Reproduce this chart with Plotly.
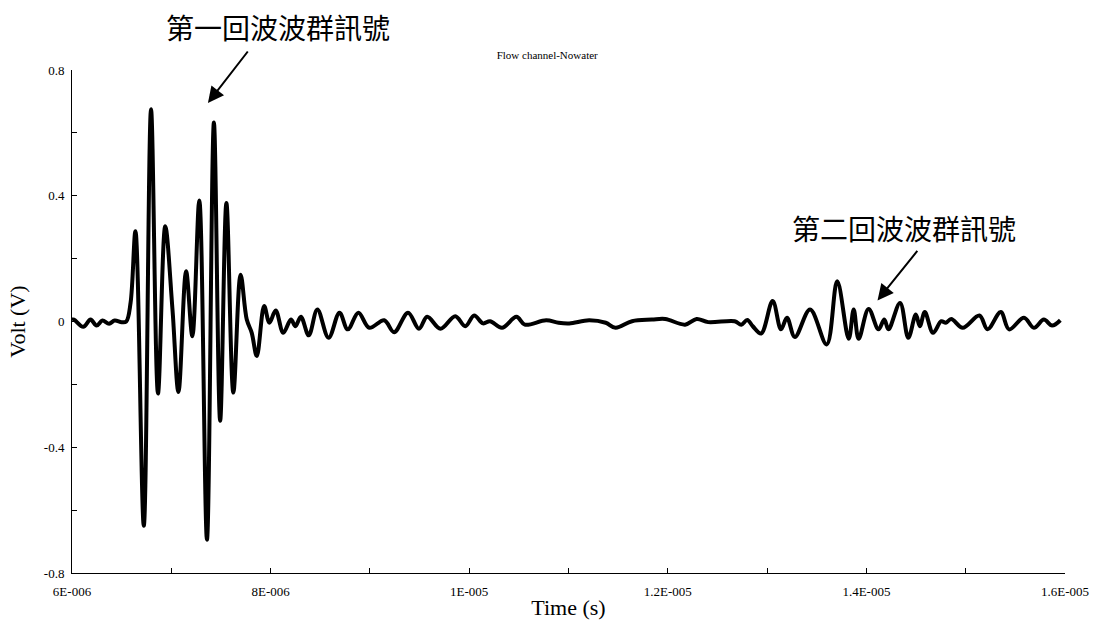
import numpy as np
import plotly.graph_objects as go

# Ultrasonic echo trace: time in microseconds, amplitude in volts (turning points of the waveform)
time_us = [
    6.000, 6.020, 6.113, 6.187, 6.247, 6.306, 6.373, 6.430, 6.500, 6.546, 6.590,
    6.639, 6.723, 6.796, 6.866, 6.939, 7.012, 7.072, 7.149, 7.212, 7.282, 7.359,
    7.429, 7.492, 7.555, 7.625, 7.698, 7.760, 7.810, 7.861, 7.935, 7.988, 8.051,
    8.128, 8.205, 8.250, 8.305, 8.384, 8.471, 8.584, 8.694, 8.777, 8.884, 8.994,
    9.144, 9.244, 9.384, 9.494, 9.577, 9.710, 9.860, 9.960, 10.050, 10.140, 10.210,
    10.330, 10.476, 10.560, 10.775, 10.900, 11.008, 11.208, 11.375, 11.474, 11.640,
    11.840, 11.974, 12.174, 12.290, 12.407, 12.673, 12.740, 12.800, 12.856, 12.940,
    13.056, 13.140, 13.200, 13.280, 13.433, 13.600, 13.706, 13.822, 13.872, 13.922,
    14.022, 14.122, 14.180, 14.222, 14.339, 14.422, 14.498, 14.538, 14.588, 14.671,
    14.754, 14.800, 14.854, 14.970, 15.138, 15.220, 15.353, 15.437, 15.587, 15.687,
    15.787, 15.870, 15.953,
]
volt = [
    0.006, 0.006, -0.017, 0.006, -0.013, 0.003, -0.007, 0.003, -0.002, 0.000, 0.060,
    0.287, -0.650, 0.675, -0.229, 0.303, 0.038, -0.224, 0.160, -0.047, 0.385, -0.694,
    0.633, -0.316, 0.377, -0.226, 0.149, 0.006, -0.036, -0.110, 0.049, -0.004, 0.035,
    -0.036, 0.006, -0.015, 0.015, -0.044, 0.038, -0.052, 0.028, -0.025, 0.028, -0.020,
    0.004, -0.034, 0.028, -0.023, 0.015, -0.023, 0.017, -0.015, 0.019, -0.006, 0.001,
    -0.020, 0.015, -0.010, 0.004, -0.004, -0.006, 0.004, -0.004, -0.020, 0.001,
    0.006, 0.008, -0.010, 0.008, -0.002, 0.001, -0.010, 0.005, -0.015, -0.038,
    0.065, -0.025, 0.012, -0.049, 0.038, -0.073, 0.128, -0.055, 0.038, -0.055,
    0.040, -0.025, 0.006, -0.025, 0.059, -0.052, 0.022, -0.015, 0.030, -0.036,
    0.001, -0.004, 0.008, -0.020, 0.019, -0.025, 0.030, -0.025, 0.012, -0.020,
    0.006, -0.013, 0.004,
]

x_tick_vals = [6e-6, 8e-6, 1e-5, 1.2e-5, 1.4e-5, 1.6e-5]
x_tick_text = ["6E-006", "8E-006", "1E-005", "1.2E-005", "1.4E-005", "1.6E-005"]
y_tick_vals = [-0.8, -0.4, 0, 0.4, 0.8]
y_tick_text = ["-0.8", "-0.4", "0", "0.4", "0.8"]

first_label = "第一回波波群訊號"
second_label = "第二回波波群訊號"

t_sec = np.array(time_us) * 1e-6

fig = go.Figure()
fig.add_trace(go.Scatter(
    x=t_sec, y=volt, mode="lines",
    line=dict(color="black", width=4, shape="spline", smoothing=1.0),
    showlegend=False, hoverinfo="skip",
))

serif = "Liberation Serif, Times New Roman, serif"
cjk = "Noto Sans CJK TC, Noto Sans CJK SC, sans-serif"

fig.update_layout(
    width=1101, height=628, autosize=False,
    margin=dict(l=72, r=28, t=70, b=54),
    paper_bgcolor="white", plot_bgcolor="white",
    font=dict(family=serif, color="black", size=12),
    title=dict(text="Flow channel-Nowater", x=0.497, xanchor="center",
               y=1 - 55 / 628, yanchor="middle",
               font=dict(family=serif, size=11, color="black")),
)

fig.update_xaxes(
    range=[6e-6, 1.6e-5], tickvals=x_tick_vals, ticktext=x_tick_text,
    showline=True, linecolor="black", linewidth=1, mirror=False,
    ticks="inside", ticklen=5, tickcolor="black", showgrid=False, zeroline=False,
    minor=dict(ticks="inside", ticklen=5, tickcolor="black", dtick=1e-6, showgrid=False),
    tickfont=dict(family=serif, size=13), ticklabelstandoff=6,
    title=dict(text="Time (s)", font=dict(family=serif, size=22), standoff=2),
)
fig.update_yaxes(
    range=[-0.8, 0.8], tickvals=y_tick_vals, ticktext=y_tick_text,
    showline=True, linecolor="black", linewidth=1, mirror=False,
    ticks="inside", ticklen=5, tickcolor="black", showgrid=False, zeroline=False,
    minor=dict(ticks="inside", ticklen=5, tickcolor="black", dtick=0.2, showgrid=False),
    tickfont=dict(family=serif, size=13), ticklabelstandoff=4,
    title=dict(text="Volt (V)", font=dict(family=serif, size=22), standoff=12),
)

# Labels for the two echo groups
fig.add_annotation(text=first_label, xref="paper", yref="paper",
                   x=(280 - 72) / 1001, y=(574 - 27) / 504,
                   xanchor="center", yanchor="middle",
                   showarrow=False, font=dict(family=cjk, size=28, color="black"))
fig.add_annotation(text=second_label, xref="paper", yref="paper",
                   x=(911 - 72) / 1001, y=(574 - 228) / 504,
                   xanchor="center", yanchor="middle",
                   showarrow=False, font=dict(family=cjk, size=28, color="black"))

# Arrows pointing at each group
fig.add_annotation(x=7.369e-6, y=0.695, ax=41, ay=-53, text="", showarrow=True,
                   arrowhead=2, arrowsize=1.6, arrowwidth=2, arrowcolor="black")
fig.add_annotation(x=14.112e-6, y=0.067, ax=41, ay=-51, text="", showarrow=True,
                   arrowhead=2, arrowsize=1.6, arrowwidth=2, arrowcolor="black")

fig.write_html("out.html")
